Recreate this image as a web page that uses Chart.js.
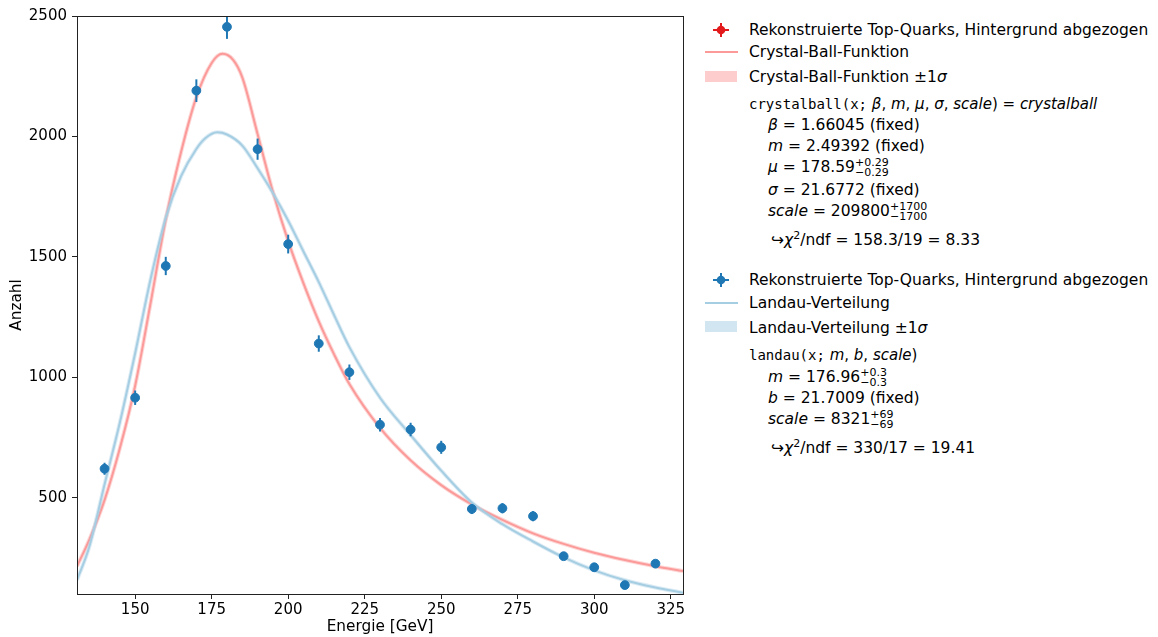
<!DOCTYPE html>
<html>
<head>
<meta charset="utf-8">
<script src="https://cdn.jsdelivr.net/npm/chart.js@4"></script>
<style>
  body { margin: 0; background: #fff; font-family: "DejaVu Sans"; }
  #wrap { position: absolute; left: 0; top: 0; width: 700px; height: 637px; }
  .row { position: absolute; white-space: nowrap; font-size: 15.5px; line-height: 20px; height: 20px; color: #000; }
  .row.f { font-size: 15px; }
  .i { font-style: italic; }
  .tt { font-family: "DejaVu Sans Mono", "Liberation Mono", monospace; font-size: 14px; }
  .ud { display: inline-block; vertical-align: middle; font-size: 11px; line-height: 10px; }
  .ud span { display: block; }
  .ln { position: absolute; height: 2px; }
  .patch { position: absolute; }
</style>
</head>
<body>
<div id="wrap"><canvas id="plot"></canvas></div>

<!-- legend, Crystal-Ball -->
<svg style="position:absolute;left:712px;top:22px" width="18" height="16">
  <line x1="1" y1="8" x2="17" y2="8" stroke="#e31a1c" stroke-width="2"/>
  <line x1="9" y1="1" x2="9" y2="15" stroke="#e31a1c" stroke-width="2"/>
  <circle cx="9" cy="8" r="4.3" fill="#e31a1c"/>
</svg>
<div class="row" style="left:749px;top:20px">Rekonstruierte Top-Quarks, Hintergrund abgezogen</div>
<div class="ln" style="left:705px;top:51px;width:33px;background:#fb9a99"></div>
<div class="row" style="left:749px;top:42px">Crystal-Ball-Funktion</div>
<div class="patch" style="left:705px;top:71px;width:32px;height:11px;background:rgba(251,154,153,0.5)"></div>
<div class="row" style="left:749px;top:67px">Crystal-Ball-Funktion ±1<span class="i">σ</span></div>
<div class="row f" style="left:749px;top:94px"><span class="tt">crystalball(x;</span> <span class="i">β</span>, <span class="i">m</span>, <span class="i">μ</span>, <span class="i">σ</span>, <span class="i">scale</span>) = <span class="i">crystalball</span></div>
<div class="row" style="left:768px;top:115px"><span class="i">β</span> = 1.66045 (fixed)</div>
<div class="row" style="left:768px;top:136px"><span class="i">m</span> = 2.49392 (fixed)</div>
<div class="row" style="left:768px;top:157px"><span class="i">μ</span> = 178.59<span class="ud"><span>+0.29</span><span>−0.29</span></span></div>
<div class="row" style="left:768px;top:180px"><span class="i">σ</span> = 21.6772 (fixed)</div>
<div class="row" style="left:768px;top:201px"><span class="i">scale</span> = 209800<span class="ud"><span>+1700</span><span>−1700</span></span></div>
<div class="row" style="left:771px;top:226px">↪<span class="i">χ</span><sup style="font-size:11px">2</sup>/ndf = 158.3/19 = 8.33</div>

<!-- legend, Landau -->
<svg style="position:absolute;left:712px;top:272px" width="18" height="16">
  <line x1="1" y1="8" x2="17" y2="8" stroke="#1f78b4" stroke-width="2"/>
  <line x1="9" y1="1" x2="9" y2="15" stroke="#1f78b4" stroke-width="2"/>
  <circle cx="9" cy="8" r="4.3" fill="#1f78b4"/>
</svg>
<div class="row" style="left:749px;top:270px">Rekonstruierte Top-Quarks, Hintergrund abgezogen</div>
<div class="ln" style="left:705px;top:302px;width:33px;background:#a6cee3"></div>
<div class="row" style="left:749px;top:293px">Landau-Verteilung</div>
<div class="patch" style="left:705px;top:321px;width:32px;height:11px;background:rgba(166,206,227,0.5)"></div>
<div class="row" style="left:749px;top:318px">Landau-Verteilung ±1<span class="i">σ</span></div>
<div class="row f" style="left:749px;top:345px"><span class="tt">landau(x;</span> <span class="i">m</span>, <span class="i">b</span>, <span class="i">scale</span>)</div>
<div class="row" style="left:768px;top:367px"><span class="i">m</span> = 176.96<span class="ud"><span>+0.3</span><span>−0.3</span></span></div>
<div class="row" style="left:768px;top:388px"><span class="i">b</span> = 21.7009 (fixed)</div>
<div class="row" style="left:768px;top:409px"><span class="i">scale</span> = 8321<span class="ud"><span>+69</span><span>−69</span></span></div>
<div class="row" style="left:771px;top:434px">↪<span class="i">χ</span><sup style="font-size:11px">2</sup>/ndf = 330/17 = 19.41</div>

<script>
// Messpunkte
var energie = [140, 150, 160, 170, 180, 190, 200, 210, 220, 230, 240, 250, 260, 270, 280, 290, 300, 310, 320];
var anzahl  = [620, 915, 1462, 2190, 2455, 1947, 1553, 1140, 1021, 803, 783, 709, 453, 456, 423, 257, 211, 137, 226];
var fehler  = [25, 30, 38, 47, 50, 44, 39, 34, 32, 28, 28, 27, 21, 21, 21, 16, 15, 12, 15];

// Crystal-Ball fit
var cbX = [131, 135, 140, 145, 150, 155, 160, 165, 170, 175, 178.5, 182, 185, 190, 195, 200, 205, 210, 215, 220, 230, 240, 250, 260, 270, 280, 290, 300, 310, 320, 329];
var cbY = [215, 325, 490, 705, 965, 1305, 1655, 1935, 2163, 2305, 2343, 2318, 2245, 2010, 1770, 1565, 1390, 1232, 1095, 972, 790, 655, 552, 472, 408, 352, 308, 271, 241, 215, 195];

// Landau fit
var landauX = [131, 135, 140, 145, 150, 155, 160, 165, 170, 173, 176.8, 180, 185, 190, 195, 200, 205, 210, 215, 220, 230, 240, 250, 260, 270, 280, 290, 300, 310, 320, 329];
var landauY = [158, 295, 555, 812, 1100, 1405, 1662, 1835, 1948, 1993, 2017, 2008, 1962, 1868, 1765, 1650, 1522, 1395, 1258, 1125, 915, 760, 612, 480, 390, 318, 252, 198, 157, 127, 105];

var xTicks = [150, 175, 200, 225, 250, 275, 300, 325];
var yTicks = [500, 1000, 1500, 2000, 2500];

function pts(xs, ys) {
  return xs.map(function(v, i) { return {x: v, y: ys[i]}; });
}

var errorBars = {
  id: 'errorBars',
  afterDatasetsDraw: function(chart) {
    var ctx = chart.ctx, a = chart.chartArea, x = chart.scales.x, y = chart.scales.y;
    ctx.save();
    ctx.beginPath();
    ctx.rect(a.left, a.top, a.right - a.left, a.bottom - a.top);
    ctx.clip();
    ctx.strokeStyle = '#1f78b4';
    ctx.lineWidth = 2;
    energie.forEach(function(e, i) {
      var px = x.getPixelForValue(e);
      ctx.beginPath();
      ctx.moveTo(px, y.getPixelForValue(anzahl[i] - fehler[i]));
      ctx.lineTo(px, y.getPixelForValue(anzahl[i] + fehler[i]));
      ctx.stroke();
    });
    ctx.restore();
  }
};

var frame = {
  id: 'frame',
  afterDraw: function(chart) {
    var ctx = chart.ctx, a = chart.chartArea;
    ctx.save();
    ctx.strokeStyle = '#222';
    ctx.lineWidth = 1;
    ctx.strokeRect(Math.round(a.left) + 0.5, Math.round(a.top) + 0.5, Math.round(a.right - a.left), Math.round(a.bottom - a.top));
    ctx.restore();
  }
};

Chart.defaults.font.family = 'DejaVu Sans';
Chart.defaults.font.size = 15;
Chart.defaults.color = '#000';

var chart = new Chart(document.getElementById('plot').getContext('2d'), {
  type: 'scatter',
  data: {
    datasets: [{
      label: 'Rekonstruierte Top-Quarks, Hintergrund abgezogen',
      data: pts(energie, anzahl),
      backgroundColor: '#1f78b4',
      borderColor: '#1f78b4',
      pointRadius: 4.4,
      order: 0
    }, {
      type: 'line',
      label: 'Crystal-Ball-Funktion ±1σ',
      data: pts(cbX, cbY),
      borderColor: 'rgba(251,154,153,0.4)',
      borderWidth: 4,
      pointRadius: 0,
      cubicInterpolationMode: 'monotone',
      order: 4
    }, {
      type: 'line',
      label: 'Crystal-Ball-Funktion',
      data: pts(cbX, cbY),
      borderColor: '#fb9a99',
      borderWidth: 2,
      pointRadius: 0,
      cubicInterpolationMode: 'monotone',
      order: 3
    }, {
      type: 'line',
      label: 'Landau-Verteilung ±1σ',
      data: pts(landauX, landauY),
      borderColor: 'rgba(166,206,227,0.4)',
      borderWidth: 4,
      pointRadius: 0,
      cubicInterpolationMode: 'monotone',
      order: 2
    }, {
      type: 'line',
      label: 'Landau-Verteilung',
      data: pts(landauX, landauY),
      borderColor: '#a6cee3',
      borderWidth: 2,
      pointRadius: 0,
      cubicInterpolationMode: 'monotone',
      order: 1
    }]
  },
  options: {
    responsive: true,
    maintainAspectRatio: false,
    animation: false,
    layout: { padding: { top: 16, right: 17, left: 0, bottom: 0 } },
    plugins: { legend: { display: false }, tooltip: { enabled: false } },
    scales: {
      x: {
        type: 'linear',
        min: 131,
        max: 329,
        afterBuildTicks: function(s) { s.ticks = xTicks.map(function(v) { return {value: v}; }); },
        afterFit: function(s) { s.height = 43; },
        ticks: { padding: 2, maxRotation: 0, callback: function(v) { return String(v); } },
        grid: { drawOnChartArea: false, drawTicks: true, tickLength: 5, color: '#222' },
        border: { display: false },
        title: { display: true, text: 'Energie [GeV]', font: { size: 15.3 }, padding: { top: 0, bottom: 1 } }
      },
      y: {
        type: 'linear',
        min: 100,
        max: 2500,
        afterBuildTicks: function(s) { s.ticks = yTicks.map(function(v) { return {value: v}; }); },
        afterFit: function(s) { s.width = 77; },
        ticks: { padding: 5, callback: function(v) { return String(v); } },
        grid: { drawOnChartArea: false, drawTicks: true, tickLength: 5, color: '#222' },
        border: { display: false },
        title: { display: true, text: 'Anzahl', font: { size: 15.3 }, padding: { top: 8, bottom: 0 } }
      }
    }
  },
  plugins: [errorBars, frame]
});
</script>
</body>
</html>
